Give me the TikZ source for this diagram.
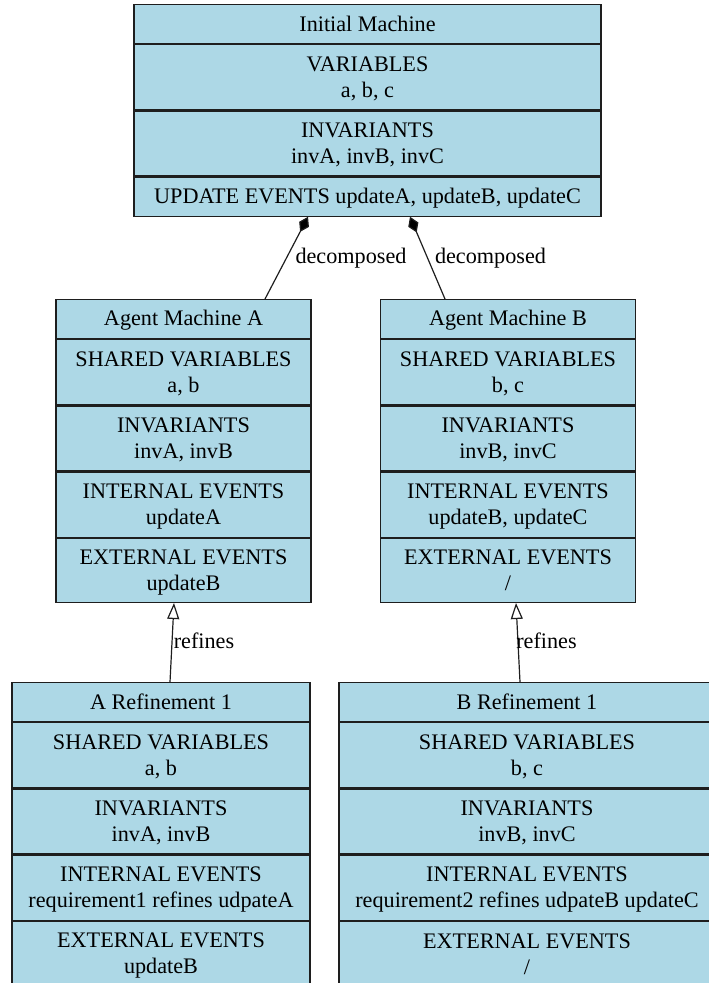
\documentclass[tikz,border=0pt]{standalone}
\usepackage{fontspec}
\setmainfont{Liberation Serif}
\usetikzlibrary{arrows.meta}
\definecolor{cellblue}{RGB}{173,216,230}
\definecolor{edgeink}{RGB}{30,30,30}
\newcommand\lstrut{\rule[-3pt]{0pt}{21pt}}
\tikzset{
  cell/.style={draw=edgeink, line width=1.2pt, fill=cellblue, inner sep=0pt,
    anchor=north, align=center, font=\fontsize{22.2}{26}\selectfont},
  onerow/.style={cell, minimum height=39pt},
  tworow/.style={cell, minimum height=65pt},
  lbl/.style={inner sep=0pt, anchor=base, font=\fontsize{22.2}{26}\selectfont},
  link/.style={draw=edgeink, line width=1.2pt},
  decomp/.style={link, -{Diamond[length=17pt,width=11pt,fill=black]}},
  refine/.style={link, -{Triangle[open,length=16pt,width=12pt,fill=white]}}
}
\begin{document}
\begin{tikzpicture}[x=1pt, y=-1pt]
\useasboundingbox (0,0) rectangle (709,983);

% Initial machine
\node[onerow, minimum width=467pt] (im) at (367.5,4) {\lstrut Initial Machine};
\node[tworow, minimum width=467pt] (imVar) at (im.south) {\lstrut VARIABLES\\\lstrut a, b, c};
\node[tworow, minimum width=467pt] (imInv) at (imVar.south) {\lstrut INVARIANTS\\\lstrut invA, invB, invC};
\node[onerow, minimum width=467pt] (imUpd) at (imInv.south) {\lstrut UPDATE EVENTS updateA, updateB, updateC};

% Agent machine A
\node[onerow, minimum width=255pt] (ama) at (183.5,299) {\lstrut Agent Machine A};
\node[tworow, minimum width=255pt] (amaVar) at (ama.south) {\lstrut SHARED VARIABLES\\\lstrut a, b};
\node[tworow, minimum width=255pt] (amaInv) at (amaVar.south) {\lstrut INVARIANTS\\\lstrut invA, invB};
\node[tworow, minimum width=255pt] (amaInt) at (amaInv.south) {\lstrut INTERNAL EVENTS\\\lstrut updateA};
\node[tworow, minimum width=255pt, minimum height=64pt] (amaExt) at (amaInt.south) {\lstrut EXTERNAL EVENTS\\\lstrut updateB};

% Agent machine B
\node[onerow, minimum width=255pt] (amb) at (508,299) {\lstrut Agent Machine B};
\node[tworow, minimum width=255pt] (ambVar) at (amb.south) {\lstrut SHARED VARIABLES\\\lstrut b, c};
\node[tworow, minimum width=255pt] (ambInv) at (ambVar.south) {\lstrut INVARIANTS\\\lstrut invB, invC};
\node[tworow, minimum width=255pt] (ambInt) at (ambInv.south) {\lstrut INTERNAL EVENTS\\\lstrut updateB, updateC};
\node[tworow, minimum width=255pt, minimum height=64pt] (ambExt) at (ambInt.south) {\lstrut EXTERNAL EVENTS\\\lstrut /};

% A refinement 1
\node[onerow, minimum width=298pt] (ar) at (161,682) {\lstrut A Refinement 1};
\node[tworow, minimum width=298pt] (arVar) at (ar.south) {\lstrut SHARED VARIABLES\\\lstrut a, b};
\node[tworow, minimum width=298pt] (arInv) at (arVar.south) {\lstrut INVARIANTS\\\lstrut invA, invB};
\node[tworow, minimum width=298pt] (arInt) at (arInv.south) {\lstrut INTERNAL EVENTS\\\lstrut requirement1 refines udpateA};
\node[tworow, minimum width=298pt] (arExt) at (arInt.south) {\lstrut EXTERNAL EVENTS\\\lstrut updateB};

% B refinement 1
\node[onerow, minimum width=376pt] (br) at (527,682) {\lstrut B Refinement 1};
\node[tworow, minimum width=376pt] (brVar) at (br.south) {\lstrut SHARED VARIABLES\\\lstrut b, c};
\node[tworow, minimum width=376pt] (brInv) at (brVar.south) {\lstrut INVARIANTS\\\lstrut invB, invC};
\node[tworow, minimum width=376pt] (brInt) at (brInv.south) {\lstrut INTERNAL EVENTS\\\lstrut requirement2 refines udpateB updateC};
\node[tworow, minimum width=376pt] (brExt) at (brInt.south) {\lstrut EXTERNAL EVENTS\\\lstrut /};

% decomposition links
\draw[decomp] ([xshift=81.5pt]ama.north) -- ([xshift=-59.5pt]imUpd.south);
\draw[decomp] ([xshift=-63pt]amb.north) -- ([xshift=42.5pt]imUpd.south);
\node[lbl] (decA) at (351,263) {decomposed};
\node[lbl] (decB) at (490.5,263) {decomposed};

% refinement links
\draw[refine] ([xshift=9pt]ar.north) -- ([xshift=-9.5pt]amaExt.south);
\draw[refine] ([xshift=-7pt]br.north) -- ([xshift=8pt]ambExt.south);
\node[lbl] (refA) at (204,648) {refines};
\node[lbl] (refB) at (546.5,648) {refines};
\end{tikzpicture}
\end{document}
